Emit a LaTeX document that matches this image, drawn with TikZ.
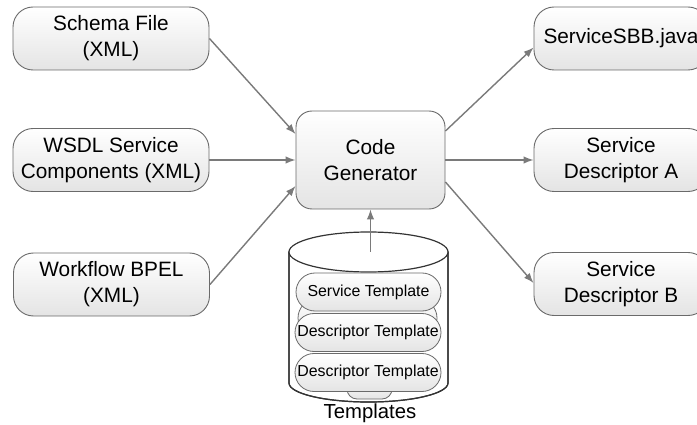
\documentclass[tikz,border=0pt]{standalone}
\usepackage{fontspec}
\setmainfont{Liberation Sans}
\usetikzlibrary{arrows.meta}
\definecolor{boxborder}{HTML}{6A6A6A}
\definecolor{boxfill}{HTML}{E4E4E4}
\definecolor{arrowgray}{HTML}{7A7A7A}
\definecolor{cylline}{HTML}{333333}
\begin{document}
\begin{tikzpicture}[x=1pt,y=-1pt,
  box/.style={draw=boxborder, line width=0.9pt, rounded corners=20pt,
    top color=white, bottom color=boxfill, minimum width=196pt,
    minimum height=63pt, align=center, inner sep=0pt,
    font=\fontsize{20.8}{26}\selectfont},
  pill/.style={draw=boxborder, line width=0.8pt, rounded corners=19pt,
    top color=white, bottom color=boxfill, minimum height=38pt,
    align=center, inner sep=0pt, font=\fontsize{15.9}{18}\selectfont},
  arr/.style={draw=arrowgray, line width=1.4pt, -{Latex[length=10pt,width=7.5pt]}},
  cyl/.style={draw=cylline, line width=1.2pt, fill=white}]
\useasboundingbox (0,0) rectangle (697,425);

% left boxes
\node[box] (schema) at (111,38.5) {Schema File\\(XML)};
\node[box] (wsdl) at (111,160) {WSDL Service\\Components (XML)};
\node[box] (bpel) at (111.5,284.5) {Workflow BPEL\\(XML)};

% centre
\node[box, minimum width=149pt, minimum height=98pt, rounded corners=16pt] (cg) at (370.5,160) {Code\\Generator};

% right boxes
\node[box, minimum width=174pt] (sbb) at (621,38.5) {ServiceSBB.java};
\node[box, minimum width=174pt] (da) at (621,160) {Service\\Descriptor A};
\node[box, minimum width=174pt] (db) at (621,284) {Service\\Descriptor B};

% cylinder
\path[cyl] (289,252) -- (289,383) arc[start angle=180, end angle=360, x radius=79.5pt, y radius=19pt] -- (448,252) -- cycle;
\draw[draw=cylline, line width=1.2pt] (289,252) -- (289,383) arc[start angle=180, end angle=360, x radius=79.5pt, y radius=19pt] -- (448,252);
\draw[cyl] (368.5,252) ellipse [x radius=79.5pt, y radius=20pt];

% templates inside
\node[pill, minimum width=139pt] (hid1) at (367.5,318) {};
\node[pill, minimum width=145pt] (st) at (368.5,292) {Service Template};
\node[pill, minimum width=146pt] (dt1) at (368,332.5) {Descriptor Template};
\node[pill, minimum width=45pt, minimum height=20pt, rounded corners=10pt] (hid2) at (369.5,389) {};
\node[pill, minimum width=146pt] (dt2) at (368,372.5) {Descriptor Template};

\node[font=\fontsize{20.3}{22}\selectfont, inner sep=0pt] (tl) at (370,413) {Templates};

\coordinate (cyltop) at (370.5,252);

% arrows
\draw[arr] (schema.east) -- ([yshift=26pt]cg.west);
\draw[arr] (wsdl.east) -- (cg.west);
\draw[arr] (bpel.east) -- ([yshift=-26pt]cg.west);
\draw[arr] (cyltop) -- (cg.south);
\draw[arr] ([yshift=29pt]cg.east) -- ([yshift=-9pt]sbb.west);
\draw[arr] (cg.east) -- (da.west);
\draw[arr] ([yshift=-22pt]cg.east) -- ([yshift=1pt]db.west);
\end{tikzpicture}
\end{document}
